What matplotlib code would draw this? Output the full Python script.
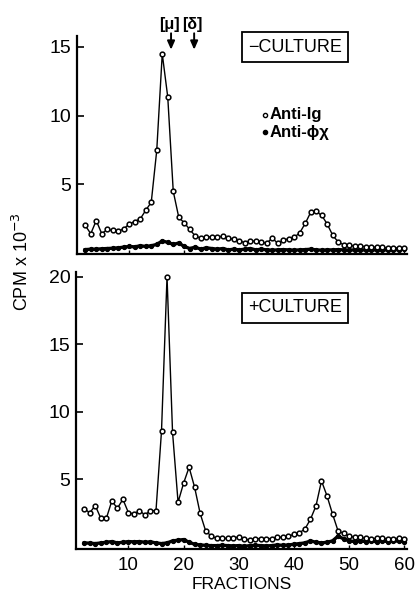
import numpy as np
import matplotlib
matplotlib.use("Agg")
import matplotlib.pyplot as plt

# fraction numbers (same for both panels)
fractions = np.arange(2, 61)

# -CULTURE panel, CPM x 10^-3
minus_anti_ig = [1.98, 1.38, 2.34, 1.38, 1.69, 1.62, 1.55, 1.74, 2.08, 2.27,
                 2.46, 3.09, 3.67, 7.46, 14.5, 11.35, 4.47, 2.58, 2.17, 1.69,
                 1.21, 1.06, 1.13, 1.16, 1.16, 1.18, 1.06, 0.97, 0.87, 0.72,
                 0.87, 0.82, 0.77, 0.68, 1.06, 0.68, 0.92, 1.01, 1.11, 1.45,
                 2.13, 2.95, 3.0, 2.71, 2.08, 1.26, 0.77, 0.58, 0.53, 0.48,
                 0.48, 0.43, 0.43, 0.38, 0.38, 0.34, 0.36, 0.34, 0.34]
minus_anti_phix = [0.22, 0.25, 0.25, 0.28, 0.3, 0.32, 0.35, 0.4, 0.45,
                   0.42, 0.5, 0.45, 0.5, 0.6, 0.85, 0.75, 0.6, 0.7, 0.45,
                   0.3, 0.4, 0.25, 0.35, 0.3, 0.25, 0.3, 0.2, 0.25, 0.2,
                   0.25, 0.3, 0.2, 0.25, 0.2, 0.18, 0.2, 0.22, 0.2, 0.18,
                   0.2, 0.22, 0.25, 0.2, 0.18, 0.2, 0.2, 0.22, 0.2, 0.18,
                   0.2, 0.18, 0.2, 0.18, 0.2, 0.18, 0.2, 0.2, 0.22, 0.28]

# +CULTURE panel
plus_anti_ig = [2.81, 2.54, 3.06, 2.12, 2.12, 3.41, 2.86, 3.53, 2.54, 2.44,
                2.69, 2.37, 2.69, 2.69, 8.59, 20.0, 8.49, 3.31, 4.72, 5.9,
                4.42, 2.49, 1.19, 0.81, 0.64, 0.64, 0.64, 0.64, 0.76, 0.57,
                0.52, 0.62, 0.62, 0.62, 0.62, 0.71, 0.73, 0.8, 0.93, 1.05,
                1.33, 2.05, 3.04, 4.89, 3.78, 2.44, 1.19, 1.0, 0.81, 0.71,
                0.71, 0.64, 0.6, 0.64, 0.64, 0.6, 0.6, 0.64, 0.6]
plus_anti_phix = [0.3, 0.28, 0.25, 0.3, 0.35, 0.4, 0.3, 0.35, 0.4,
                  0.38, 0.4, 0.35, 0.38, 0.3, 0.25, 0.3, 0.45, 0.5, 0.55,
                  0.35, 0.2, 0.15, 0.12, 0.1, 0.1, 0.12, 0.1, 0.08, 0.1,
                  0.05, 0.1, 0.12, 0.1, 0.08, 0.1, 0.15, 0.12, 0.15, 0.2,
                  0.25, 0.3, 0.45, 0.35, 0.3, 0.35, 0.45, 0.8, 0.6, 0.45,
                  0.4, 0.45, 0.4, 0.42, 0.4, 0.45, 0.4, 0.42, 0.45, 0.4]

# marker positions for the [mu] and [delta] arrows
arrow_fractions = [17.6, 21.8]
arrow_labels = ["[\u03bc]", "[\u03b4]"]

top_yticks = [5, 10, 15]
bottom_yticks = [5, 10, 15, 20]
xticks = [10, 20, 30, 40, 50, 60]

plt.rcParams['font.family'] = ['Liberation Sans', 'DejaVu Sans']

W, H = 415, 593
fig = plt.figure(figsize=(W / 100, H / 100), dpi=100)

def px_axes(left, right, top, bottom):
    return fig.add_axes([left / W, 1 - bottom / H, (right - left) / W, (bottom - top) / H])

ax1 = px_axes(77, 407, 36, 254)
ax2 = px_axes(76, 407, 272, 549)


def style(ax, yticks):
    for s in ['top', 'right']:
        ax.spines[s].set_visible(False)
    for s in ['left', 'bottom']:
        ax.spines[s].set_linewidth(1.6)
    ax.set_xlim(0.5, 60.5)
    ax.set_yticks(yticks)
    ax.tick_params(axis='y', direction='in', length=5, width=1.2, pad=4, labelsize=14)
    ax.tick_params(axis='x', direction='in', length=3, width=1.0, pad=6, labelsize=13.5)
    ax.set_xticks(xticks)


def draw(ax, ig, phix):
    ax.plot(fractions, phix, '-', color='black', lw=2.4, marker='o', ms=2.8,
            mfc='black', mec='black', zorder=2)
    ax.plot(fractions, ig, '-', color='black', lw=1.0, marker='o', ms=3.4,
            mfc='white', mec='black', mew=1.1, zorder=3)


draw(ax1, minus_anti_ig, minus_anti_phix)
style(ax1, top_yticks)
ax1.set_ylim(-0.1, 15.8)
ax1.set_xticklabels([])

draw(ax2, plus_anti_ig, plus_anti_phix)
style(ax2, bottom_yticks)
ax2.set_ylim(-0.15, 20.35)
ax2.set_xlabel('FRACTIONS', fontsize=12.5, labelpad=2)

# arrows at top
for f, lab in zip(arrow_fractions, arrow_labels):
    ax1.annotate('', xy=(f, 14.6), xytext=(f, 16.2), annotation_clip=False,
                 arrowprops=dict(arrowstyle='-|>,head_width=0.22,head_length=0.5',
                                 color='black', lw=1.4))
    ax1.text(f - 0.3, 16.1, lab, ha='center', va='bottom', fontsize=11.5,
             fontweight='bold', clip_on=False)

# culture boxes
box = dict(boxstyle='square,pad=0.35', fc='white', ec='black', lw=1.3)
fig.text(295 / W, 1 - 47 / H, '\u2212CULTURE', ha='center', va='center',
         fontsize=13, bbox=box)
fig.text(295 / W, 1 - 308 / H, '+CULTURE', ha='center', va='center',
         fontsize=13, bbox=box)

# legend
fig.lines.append(plt.Line2D([265 / W], [1 - 115 / H], marker='o', ms=3.0, mfc='white',
                            mec='black', mew=1.0, transform=fig.transFigure))
fig.lines.append(plt.Line2D([265 / W], [1 - 132 / H], marker='o', ms=3.0, mfc='black',
                            mec='black', transform=fig.transFigure))
fig.text(270 / W, 1 - 115 / H, 'Anti-Ig', ha='left', va='center', fontsize=12,
         fontweight='bold')
fig.text(270 / W, 1 - 132 / H, 'Anti-\u03d5\u03c7', ha='left', va='center',
         fontsize=12, fontweight='bold')

fig.text(22 / W, 1 - 262 / H, r'CPM x 10$^{-3}$', rotation=90, ha='center',
         va='center', fontsize=13)

fig.savefig('out.png', dpi=100)
